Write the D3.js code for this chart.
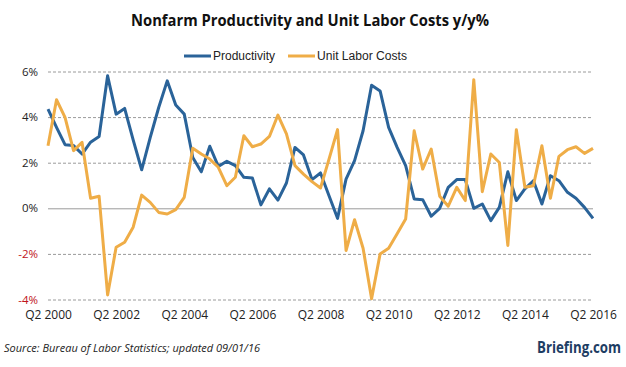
<!DOCTYPE html>
<html lang="en">
<head>
<meta charset="UTF-8">
<title>Nonfarm Productivity and Unit Labor Costs y/y%</title>
<style>
    body { margin: 0; background: #fff; }
    svg { display: block; font-family: "Open Sans", "DejaVu Sans", sans-serif; }
</style>
</head>
<body>
<svg width="626" height="367"></svg>

<script src="https://d3js.org/d3.v7.min.js"></script>
<script>
    // quarters Q2 2000 .. Q2 2016
    const quarters = [];
    for (let yr = 2000; yr <= 2016; yr++) {
        for (let q = 1; q <= 4; q++) {
            if ((yr === 2000 && q < 2) || (yr === 2016 && q > 2)) continue;
            quarters.push("Q" + q + " " + yr);
        }
    }

    const xTickLabels = ["Q2 2000", "Q2 2002", "Q2 2004", "Q2 2006", "Q2 2008",
        "Q2 2010", "Q2 2012", "Q2 2014", "Q2 2016"];
    const yTicks = [-4, -2, 0, 2, 4, 6];

    const productivity = [
        4.35, 3.55, 2.79, 2.75, 2.38, 2.9, 3.15, 5.81, 4.13, 4.38,
        3.0, 1.69, 3.1, 4.42, 5.59, 4.53, 4.13, 2.23, 1.6, 2.72,
        1.84, 2.06, 1.87, 1.36, 1.33, 0.15, 0.85, 0.36, 1.11, 2.67,
        2.34, 1.26, 1.55, 0.55, -0.44, 1.28, 2.09, 3.4, 5.4, 5.15,
        3.55, 2.67, 1.87, 0.41, 0.38, -0.35, 0.0, 0.92, 1.26, 1.26,
        0.0, 0.19, -0.54, 0.04, 1.6, 0.34, 0.85, 1.21, 0.19, 1.43,
        1.21, 0.7, 0.44, 0.04, -0.44
    ];

    const unitLaborCosts = [
        2.74, 4.76, 3.99, 2.53, 2.89, 0.44, 0.53, -3.8, -1.71, -1.49,
        -0.83, 0.58, 0.26, -0.18, -0.25, -0.06, 0.48, 2.63, 2.38, 2.16,
        1.8, 0.99, 1.36, 3.18, 2.7, 2.82, 3.15, 4.09, 3.26, 1.87,
        1.5, 1.17, 0.89, 2.16, 3.45, -1.85, -0.5, -1.75, -3.97, -2.0,
        -1.75, -1.12, -0.47, 3.4, 1.72, 2.6, 0.53, 0.09, 0.92, 0.34,
        5.64, 0.73, 2.38, 2.01, -1.63, 3.45, 0.92, 0.99, 2.74, 0.44,
        2.28, 2.57, 2.7, 2.41, 2.63
    ];

    const series = [
        {name: "Productivity", values: productivity, color: "#2a6399"},
        {name: "Unit Labor Costs", values: unitLaborCosts, color: "#efad47"}
    ];

    const svg = d3.select("svg");
    const plotLeft = 48, plotRight = 593, plotTop = 71.5, plotBottom = 299.5;

    const x = d3.scalePoint().domain(quarters).range([plotLeft, plotRight]);
    const y = d3.scaleLinear().domain([-4, 6]).range([plotBottom, plotTop]);

    // title
    svg.append("text")
        .attr("x", 310).attr("y", 26)
        .attr("text-anchor", "middle")
        .attr("font-size", 15.5).attr("font-weight", "bold")
        .attr("fill", "#111")
        .attr("textLength", 358).attr("lengthAdjust", "spacingAndGlyphs")
        .text("Nonfarm Productivity and Unit Labor Costs y/y%");

    // gridlines
    const grid = svg.append("g")
        .attr("transform", `translate(${plotLeft},0)`)
        .call(d3.axisLeft(y).tickValues(yTicks).tickSize(-(plotRight - plotLeft)).tickFormat(""));
    grid.select(".domain").remove();
    grid.selectAll("line")
        .attr("stroke", "#9a9a9a")
        .attr("stroke-width", 1)
        .attr("stroke-dasharray", d => d === 0 ? null : "3,2");

    // y axis labels
    const gy = svg.append("g")
        .attr("transform", `translate(38,0)`)
        .call(d3.axisLeft(y).tickValues(yTicks).tickSize(0).tickPadding(0).tickFormat(d => d + "%"));
    gy.select(".domain").remove();
    gy.selectAll("text")
        .attr("font-family", "'Open Sans', sans-serif")
        .attr("font-size", 11.5)
        .attr("fill", d => d < 0 ? "#c0141c" : "#222");

    // x axis labels
    const gx = svg.append("g")
        .attr("transform", `translate(0,${plotBottom + 9})`)
        .call(d3.axisBottom(x).tickValues(xTickLabels).tickSize(0).tickPadding(0));
    gx.select(".domain").remove();
    gx.selectAll("text")
        .attr("font-family", "'Open Sans', sans-serif")
        .attr("font-size", 12)
        .attr("fill", "#222")
        .attr("dy", "0.9em");

    // lines
    const line = d3.line()
        .x((d, i) => x(quarters[i]))
        .y(d => y(d));

    series.forEach(s => {
        svg.append("path")
            .datum(s.values)
            .attr("fill", "none")
            .attr("stroke", s.color)
            .attr("stroke-width", 3)
            .attr("stroke-linejoin", "round")
            .attr("d", line);
    });

    // legend
    const legendItems = [
        {x: 184, textW: 62},
        {x: 288, textW: 90}
    ];
    series.forEach((s, i) => {
        const lx = legendItems[i].x;
        svg.append("line")
            .attr("x1", lx).attr("x2", lx + 27)
            .attr("y1", 56).attr("y2", 56)
            .attr("stroke", s.color).attr("stroke-width", 3);
        svg.append("text")
            .attr("x", lx + 29).attr("y", 60)
            .attr("font-family", "'Liberation Sans', Arial, sans-serif")
            .attr("font-size", 12)
            .attr("fill", "#222")
            .attr("textLength", legendItems[i].textW).attr("lengthAdjust", "spacingAndGlyphs")
            .text(s.name);
    });

    // footer
    svg.append("text")
        .attr("x", 4).attr("y", 352)
        .attr("font-size", 11).attr("font-style", "italic")
        .attr("fill", "#222")
        .attr("textLength", 256).attr("lengthAdjust", "spacingAndGlyphs")
        .text("Source: Bureau of Labor Statistics; updated 09/01/16");

    svg.append("text")
        .attr("x", 621).attr("y", 353)
        .attr("text-anchor", "end")
        .attr("font-size", 16)
        .attr("font-weight", "bold")
        .attr("fill", "#1d3d63")
        .attr("textLength", 84).attr("lengthAdjust", "spacingAndGlyphs")
        .text("Briefing.com");
</script>
</body>
</html>
